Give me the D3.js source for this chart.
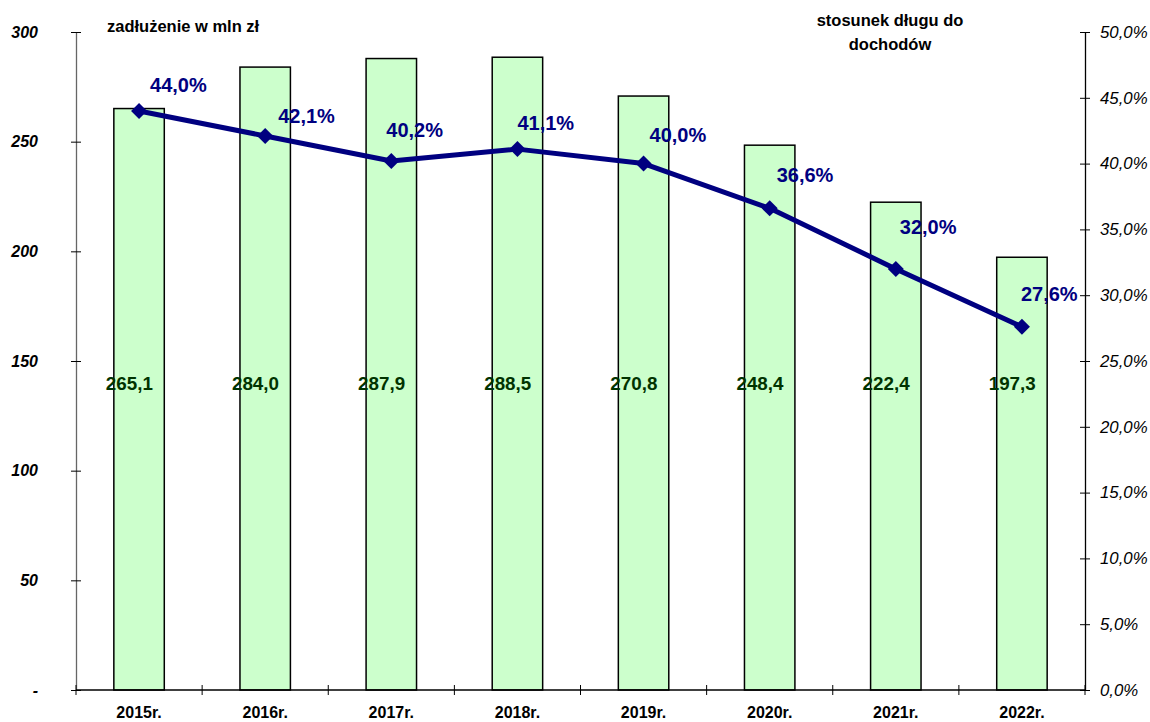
<!DOCTYPE html>
<html>
<head>
<meta charset="utf-8">
<script src="https://cdn.jsdelivr.net/npm/d3@7"></script>
<style>
  body { margin: 0; background: #fff; }
  svg { font-family: Arial, "Liberation Sans", sans-serif; }
</style>
</head>
<body>
<div id="chart"></div>
<script>
// data
var years = ["2015r.", "2016r.", "2017r.", "2018r.", "2019r.", "2020r.", "2021r.", "2022r."];
var debt = [265.1, 284.0, 287.9, 288.5, 270.8, 248.4, 222.4, 197.3];      // mln zł
var ratio = [44.0, 42.1, 40.2, 41.1, 40.0, 36.6, 32.0, 27.6];             // %
var debtTicks = [0, 50, 100, 150, 200, 250, 300];
var ratioTicks = [0, 5, 10, 15, 20, 25, 30, 35, 40, 45, 50];

// hand placed label nudges (px) for the percent labels, like the original
var pctNudge = [[11, -26], [13, -20], [-5, -31], [0, -26], [6, -29], [7, -33], [4, -42], [-1, -33]];

var W = 1150, H = 722;
var margin = {top: 32, right: 65, bottom: 32, left: 76};
var width = W - margin.left - margin.right;
var height = H - margin.top - margin.bottom;

var fmt = function(v, d) { return v.toFixed(d).replace(".", ","); };

var svg = d3.select("#chart").append("svg")
  .attr("width", W).attr("height", H);
var g = svg.append("g").attr("transform", "translate(" + margin.left + "," + margin.top + ")");

var x = d3.scaleBand().domain(years).range([0, width]).paddingInner(0.6).paddingOuter(0.3);
var y = d3.scaleLinear().domain([0, 300]).range([height, 0]);
var y2 = d3.scaleLinear().domain([0, 50]).range([height, 0]);

// left axis
var yAxis = g.append("g")
  .call(d3.axisLeft(y).tickValues(debtTicks).tickSize(0).tickPadding(38)
    .tickFormat(function(d) { return d == 0 ? "-" : d; }));
yAxis.select(".domain").attr("stroke", "#666").attr("stroke-width", 1.3);
yAxis.selectAll(".tick").append("line").attr("x1", -5).attr("x2", 5).attr("stroke", "#000");
yAxis.selectAll("text").attr("font-size", 16).attr("font-weight", "bold")
  .attr("font-style", "italic").attr("fill", "#000").attr("font-family", "Arial, sans-serif");

// right axis
var yAxis2 = g.append("g").attr("transform", "translate(" + width + ",0)")
  .call(d3.axisRight(y2).tickValues(ratioTicks).tickSize(0).tickPadding(15)
    .tickFormat(function(d) { return fmt(d, 1) + "%"; }));
yAxis2.select(".domain").attr("stroke", "#000").attr("stroke-width", 1.3);
yAxis2.selectAll(".tick").append("line").attr("x1", -5).attr("x2", 5).attr("stroke", "#000");
yAxis2.selectAll("text").attr("font-size", 16.8).attr("font-style", "italic")
  .attr("fill", "#000").attr("font-family", "Arial, sans-serif");

// bars
g.selectAll("rect.bar")
  .data(debt)
  .enter().append("rect")
    .attr("class", "bar")
    .attr("x", function(d, i) { return x(years[i]); })
    .attr("y", function(d) { return y(d); })
    .attr("width", x.bandwidth())
    .attr("height", function(d) { return height - y(d); })
    .attr("fill", "#ccffcc")
    .attr("stroke", "#000")
    .attr("stroke-width", 1.5);

// x axis
var step = x.step();
var xAxis = g.append("g").attr("transform", "translate(0," + height + ")");
xAxis.append("line").attr("x1", 0).attr("x2", width).attr("stroke", "#000").attr("stroke-width", 1.3);
xAxis.selectAll("line.tk")
  .data(d3.range(years.length + 1))
  .enter().append("line")
    .attr("class", "tk")
    .attr("x1", function(i) { return i * step; })
    .attr("x2", function(i) { return i * step; })
    .attr("y1", -5).attr("y2", 5)
    .attr("stroke", "#000");
xAxis.selectAll("text")
  .data(years)
  .enter().append("text")
    .attr("x", function(d) { return x(d) + x.bandwidth() / 2; })
    .attr("y", 28)
    .attr("text-anchor", "middle")
    .attr("font-size", 16)
    .attr("font-weight", "bold")
    .text(function(d) { return d; });

// bar value labels
g.selectAll("text.val")
  .data(debt)
  .enter().append("text")
    .attr("class", "val")
    .attr("x", function(d, i) { return x(years[i]) - 8; })
    .attr("y", y(140) + 7)
    .attr("font-size", 18.8)
    .attr("font-weight", "bold")
    .attr("fill", "#003300")
    .text(function(d) { return fmt(d, 1); });

// ratio line
var line = d3.line()
  .x(function(d, i) { return x(years[i]) + x.bandwidth() / 2; })
  .y(function(d) { return y2(d); });

g.append("path")
  .datum(ratio)
  .attr("d", line)
  .attr("fill", "none")
  .attr("stroke", "#000080")
  .attr("stroke-width", 5)
  .attr("stroke-linejoin", "round");

g.selectAll("path.mk")
  .data(ratio)
  .enter().append("path")
    .attr("class", "mk")
    .attr("transform", function(d, i) {
      return "translate(" + (x(years[i]) + x.bandwidth() / 2) + "," + y2(d) + ")";
    })
    .attr("d", "M0,-8L8,0L0,8L-8,0Z")
    .attr("fill", "#000080");

g.selectAll("text.pct")
  .data(ratio)
  .enter().append("text")
    .attr("class", "pct")
    .attr("x", function(d, i) { return x(years[i]) + x.bandwidth() / 2 + pctNudge[i][0]; })
    .attr("y", function(d, i) { return y2(d) + pctNudge[i][1] + 7; })
    .attr("font-size", 20)
    .attr("font-weight", "bold")
    .attr("fill", "#000080")
    .text(function(d) { return fmt(d, 1) + "%"; });

// titles
svg.append("text")
  .attr("x", 107).attr("y", 32)
  .attr("font-size", 16.5).attr("font-weight", "bold")
  .text("zadłużenie w mln zł");

var t2 = svg.append("text")
  .attr("x", 890).attr("y", 26)
  .attr("text-anchor", "middle")
  .attr("font-size", 16.5).attr("font-weight", "bold");
t2.append("tspan").attr("x", 890).text("stosunek długu do");
t2.append("tspan").attr("x", 890).attr("dy", 24).text("dochodów");
</script>
</body>
</html>
